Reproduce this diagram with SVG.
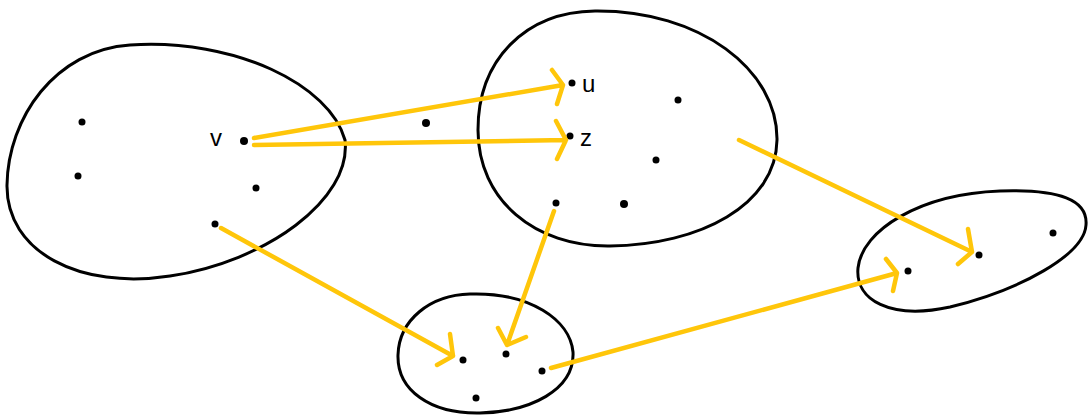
<svg xmlns="http://www.w3.org/2000/svg" width="1088" height="419" viewBox="0 0 1088 419">
<style>
.blob{fill:none;stroke:#000;stroke-width:3;stroke-linejoin:round}
.dot{fill:#000}
.arr{fill:none;stroke:#FFC60A;stroke-width:4.5;stroke-linecap:round;stroke-linejoin:round}
.lbl{font-family:"Liberation Sans",Arial,sans-serif;font-size:24px;fill:#000}
</style>
<rect width="1088" height="419" fill="#fff"/>
<g id="set1">
<path class="blob" d="M130,45 C235,38 330,85 345,140 C352,200 265,262 170,276 C80,290 6,252 7,185 C8,118 55,50 130,45 Z"/>
<circle class="dot" cx="82" cy="122" r="3.5"/>
<circle class="dot" cx="78" cy="176" r="3.5"/>
<circle class="dot" cx="244" cy="141" r="4"/>
<circle class="dot" cx="256" cy="188" r="3.5"/>
<circle class="dot" cx="215" cy="224" r="3.5"/>
<text class="lbl" x="210" y="146">v</text>
</g>
<g id="set2">
<path class="blob" d="M595,11 C700,10 778,70 777,140 C776,205 700,245 610,246 C535,247 478,200 478,130 C478,60 525,12 595,11 Z"/>
<circle class="dot" cx="426" cy="123" r="4"/>
<circle class="dot" cx="572" cy="83" r="3.5"/>
<circle class="dot" cx="570" cy="136" r="3.5"/>
<circle class="dot" cx="678" cy="100" r="3.5"/>
<circle class="dot" cx="656" cy="160" r="3.5"/>
<circle class="dot" cx="556" cy="203" r="3.5"/>
<circle class="dot" cx="624" cy="204" r="4"/>
<text class="lbl" x="582" y="92">u</text>
<text class="lbl" x="580" y="146">z</text>
</g>
<g id="set3">
<path class="blob" d="M470,294 C530,292 570,320 573,352 C575,390 530,412 480,413 C430,414 397,390 398,355 C399,320 430,295 470,294 Z"/>
<circle class="dot" cx="463" cy="360" r="3.5"/>
<circle class="dot" cx="506" cy="354" r="3.5"/>
<circle class="dot" cx="542" cy="371" r="3.5"/>
<circle class="dot" cx="476" cy="398" r="3.5"/>
</g>
<g id="set4">
<path class="blob" d="M1000,191 C1060,189 1088,200 1086,225 C1084,255 1020,290 950,307 C890,320 855,300 858,268 C862,230 920,194 1000,191 Z"/>
<circle class="dot" cx="908" cy="271" r="3.5"/>
<circle class="dot" cx="979" cy="255" r="3.5"/>
<circle class="dot" cx="1053" cy="233" r="3.5"/>
</g>
<g id="connectors">
<path class="arr" d="M254,138 L563,85 M552,70 L563,85 L557,104"/>
<path class="arr" d="M254,145 L566,140 M556,121 L566,140 L557,159"/>
<path class="arr" d="M221,228 L453,356 M450,334 L453,356 L437,365"/>
<path class="arr" d="M554,211 L507,345 M498,328 L507,345 L526,337"/>
<path class="arr" d="M551,368 L897,273 M886,259 L897,273 L893,291"/>
<path class="arr" d="M739,140 L972,252 M968,229 L972,252 L958,264"/>
</g>
</svg>
